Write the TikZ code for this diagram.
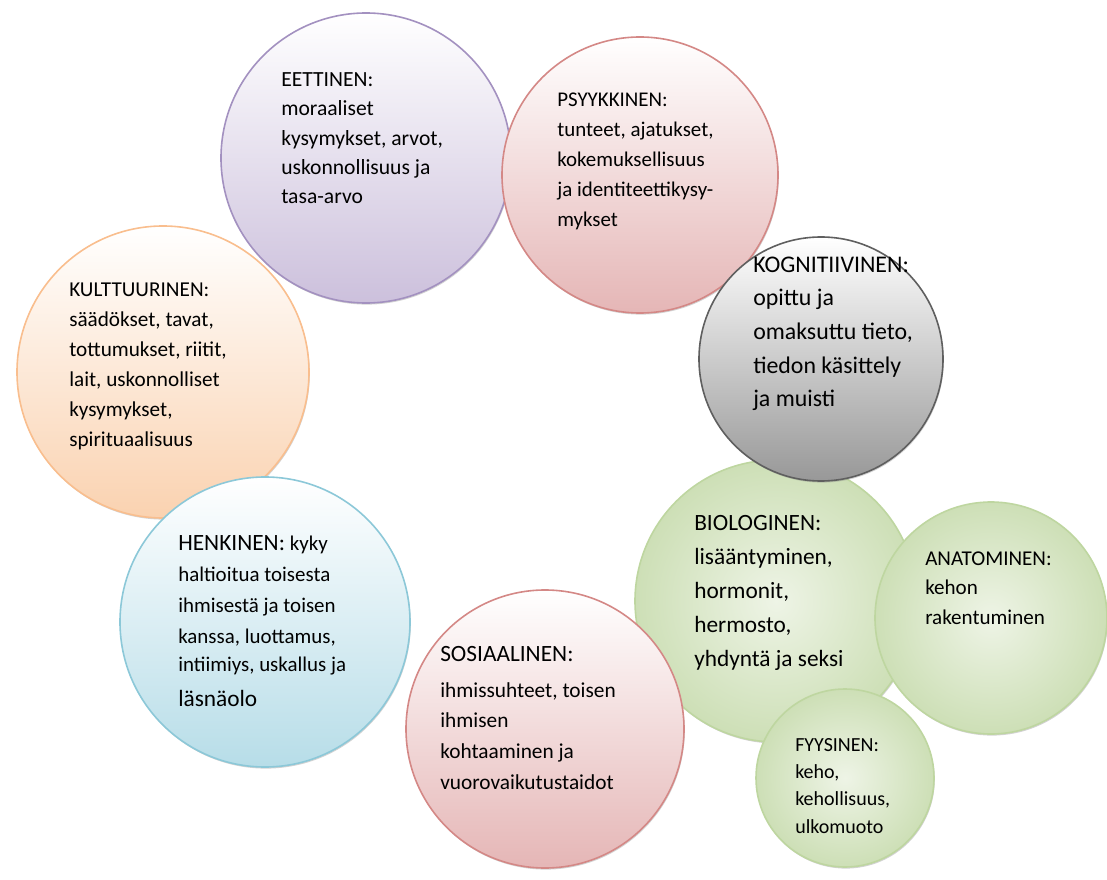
\documentclass[tikz,border=0pt]{standalone}
\usepackage{fontspec}
\setmainfont{Carlito}
\definecolor{eetline}{RGB}{163,145,192}
\definecolor{eetfill}{RGB}{204,192,220}
\definecolor{psyline}{RGB}{212,136,134}
\definecolor{psyfill}{RGB}{229,182,182}
\definecolor{kogline}{RGB}{95,95,95}
\definecolor{kogfill}{RGB}{152,152,152}
\definecolor{kulline}{RGB}{249,190,142}
\definecolor{kulfill}{RGB}{250,210,176}
\definecolor{henline}{RGB}{140,200,216}
\definecolor{henfill}{RGB}{183,221,232}
\definecolor{bioline}{RGB}{190,214,160}
\definecolor{biofill}{RGB}{205,223,182}
\definecolor{biolight}{RGB}{238,244,230}
\usetikzlibrary{shadows}
\tikzset{
  bubble/.style={circle, inner sep=0pt, line width=1.2pt, drop shadow={shadow xshift=0.6pt, shadow yshift=-1.2pt, opacity=0.35, fill=gray}},
  ethical/.style={bubble, draw=eetline, top color=white, bottom color=eetfill},
  psychic/.style={bubble, draw=psyline, top color=white, bottom color=psyfill},
  cognitive/.style={bubble, draw=kogline, top color=white, bottom color=kogfill},
  cultural/.style={bubble, draw=kulline, top color=white, bottom color=kulfill},
  spiritual/.style={bubble, draw=henline, top color=white, bottom color=henfill},
  bodily/.style={bubble, draw=bioline, inner color=biolight, outer color=biofill},
  bubbletext/.style={anchor=base west, align=left, inner sep=0pt}
}
\begin{document}
\begin{tikzpicture}[x=0.75pt, y=-0.75pt]

  \useasboundingbox (0,0) rectangle (1107,880);

  % Biological group (text anchored at its last line)
  \node (bio) [bodily, minimum size=211.5pt] at (776,601) {};
  \node (biotext) [bubbletext, font=\fontsize{17.5}{25.5}\selectfont] at (694,666) {BIOLOGINEN:\\lisääntyminen,\\hormonit,\\hermosto,\\yhdyntä ja seksi};

  \node (ana) [bodily, minimum size=174pt] at (991,618) {};
  \node (anatext) [bubbletext, font=\fontsize{15.8}{22}\selectfont] at (925,624) {ANATOMINEN:\\kehon\\rakentuminen};

  \node (fyy) [bodily, minimum size=133.5pt] at (845,778) {};
  \node (fyytext) [bubbletext, font=\fontsize{15}{20.5}\selectfont] at (795,833) {FYYSINEN:\\keho,\\kehollisuus,\\ulkomuoto};

  % Cultural
  \node (kul) [cultural, minimum size=219pt] at (163,372) {};
  \node (kultext) [bubbletext, font=\fontsize{15.9}{22.5}\selectfont] at (69,447) {KULTTUURINEN:\\säädökset, tavat,\\tottumukset, riitit,\\lait, uskonnolliset\\kysymykset,\\spirituaalisuus};

  % Ethical
  \node (eet) [ethical, minimum size=217.5pt] at (366,158) {};
  \node (eettext) [bubbletext, font=\fontsize{16.2}{22}\selectfont] at (281,204) {EETTINEN:\\moraaliset\\kysymykset, arvot,\\uskonnollisuus ja\\tasa-arvo};

  % Psychic
  \node (psy) [psychic, minimum size=207pt] at (640,175) {};
  \node (psytext) [bubbletext, font=\fontsize{15.7}{22.5}\selectfont] at (557,227) {PSYYKKINEN:\\tunteet, ajatukset,\\kokemuksellisuus\\ja identiteettikysy-\\mykset};

  % Cognitive
  \node (kog) [cognitive, minimum size=183pt] at (821,359) {};
  \node (kogtext) [bubbletext, font=\fontsize{17.9}{25.3}\selectfont] at (753,407) {KOGNITIIVINEN:\\opittu ja\\omaksuttu tieto,\\tiedon käsittely\\ja muisti};

  % Spiritual
  \node (hen) [spiritual, minimum size=217.5pt] at (265,622) {};
  \node (hentext) [bubbletext, font=\fontsize{15.7}{23.2}\selectfont] at (178,706) {{\fontsize{17.5}{23.2}\selectfont HENKINEN:} kyky\\haltioitua toisesta\\ihmisestä ja toisen\\kanssa, luottamus,\\[-2pt]intiimiys, uskallus ja\\[2.5pt]{\fontsize{17.5}{23.2}\selectfont läsnäolo}};

  % Social
  \node (sos) [psychic, minimum size=208.5pt] at (545,729) {};
  \node (sostext) [bubbletext, font=\fontsize{16}{23}\selectfont] at (440,789) {{\fontsize{17.5}{23}\selectfont SOSIAALINEN:}\\[3.5pt]ihmissuhteet, toisen\\ihmisen\\kohtaaminen ja\\vuorovaikutustaidot};

\end{tikzpicture}
\end{document}
